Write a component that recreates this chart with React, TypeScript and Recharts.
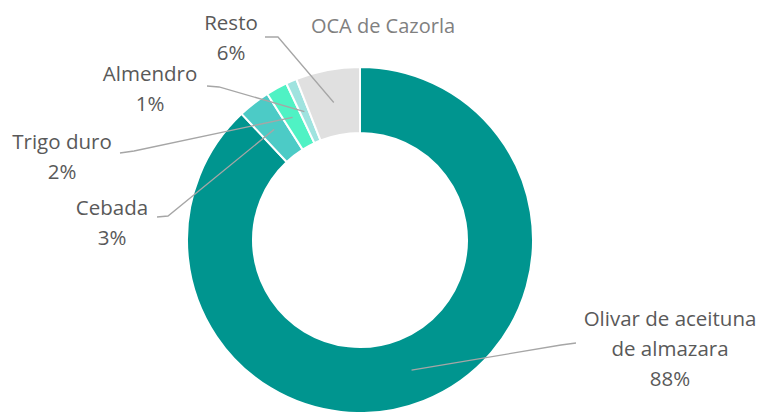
import React from "react";
import { PieChart, Pie, Cell } from "recharts";

/* ─── Data ─────────────────────────── */
const TITLE = "OCA de Cazorla";
const names = ["Olivar de aceituna de almazara", "Cebada", "Trigo duro", "Almendro", "Resto"];
const values = [88, 3, 2, 1, 6];
const COLORS = ["#00958f", "#4ccbc6", "#4ff2c4", "#9fe3df", "#e0e0e0"];

/* label text lines and layout (x, y of first line center, leader end + elbow) */
const labelLines = [
  ["Olivar de aceituna", "de almazara", "88%"],
  ["Cebada", "3%"],
  ["Trigo duro", "2%"],
  ["Almendro", "1%"],
  ["Resto", "6%"],
];
const labelPos = [
  { x: 670, y: 318, end: [576, 343], elbow: [561, 345] },
  { x: 112, y: 207, end: [157, 217], elbow: [168, 216] },
  { x: 62, y: 141, end: [120, 153], elbow: [134, 151] },
  { x: 150, y: 73, end: [207, 86], elbow: [219, 87] },
  { x: 231, y: 22, end: [265, 37], elbow: [278, 37] },
];

const data = names.map((n, i) => ({ name: n, value: values[i] }));
const RAD = Math.PI / 180;
const FONT = "'Open Sans', sans-serif";

const renderLabel = (props: any) => {
  const { cx, cy, midAngle, innerRadius, outerRadius, index } = props;
  const r = (innerRadius + outerRadius) / 2;
  const sx = cx + r * Math.cos(-midAngle * RAD);
  const sy = cy + r * Math.sin(-midAngle * RAD);
  const p = labelPos[index];
  return (
    <g key={`lbl-${index}`}>
      <polyline
        points={`${sx},${sy} ${p.elbow[0]},${p.elbow[1]} ${p.end[0]},${p.end[1]}`}
        fill="none"
        stroke="#a6a6a6"
        strokeWidth={1.3}
      />
      <text x={p.x} y={p.y} textAnchor="middle" dominantBaseline="central"
        fontFamily={FONT} fontSize={20.5} fill="#595959">
        {labelLines[index].map((t, j) => (
          <tspan key={j} x={p.x} dy={j === 0 ? 0 : 30}>{t}</tspan>
        ))}
      </text>
    </g>
  );
};

export default function App() {
  return (
    <div style={{ position: "absolute", left: 0, top: 0, width: 763, height: 412, background: "#fff", overflow: "hidden" }}>
      <PieChart width={763} height={412} margin={{ top: 0, right: 0, bottom: 0, left: 0 }}>
        <Pie
          data={data}
          dataKey="value"
          cx={360}
          cy={240}
          innerRadius={107}
          outerRadius={173}
          startAngle={90}
          endAngle={-270}
          stroke="#ffffff"
          strokeWidth={2}
          label={renderLabel}
          labelLine={false}
          isAnimationActive={false}
        >
          {data.map((_, i) => <Cell key={i} fill={COLORS[i]} />)}
        </Pie>
      </PieChart>
      <div style={{
        position: "absolute", left: 283, top: 12, width: 200, textAlign: "center",
        fontFamily: FONT, fontSize: 20, color: "#808080", lineHeight: "28px",
      }}>
        {TITLE}
      </div>
    </div>
  );
}
